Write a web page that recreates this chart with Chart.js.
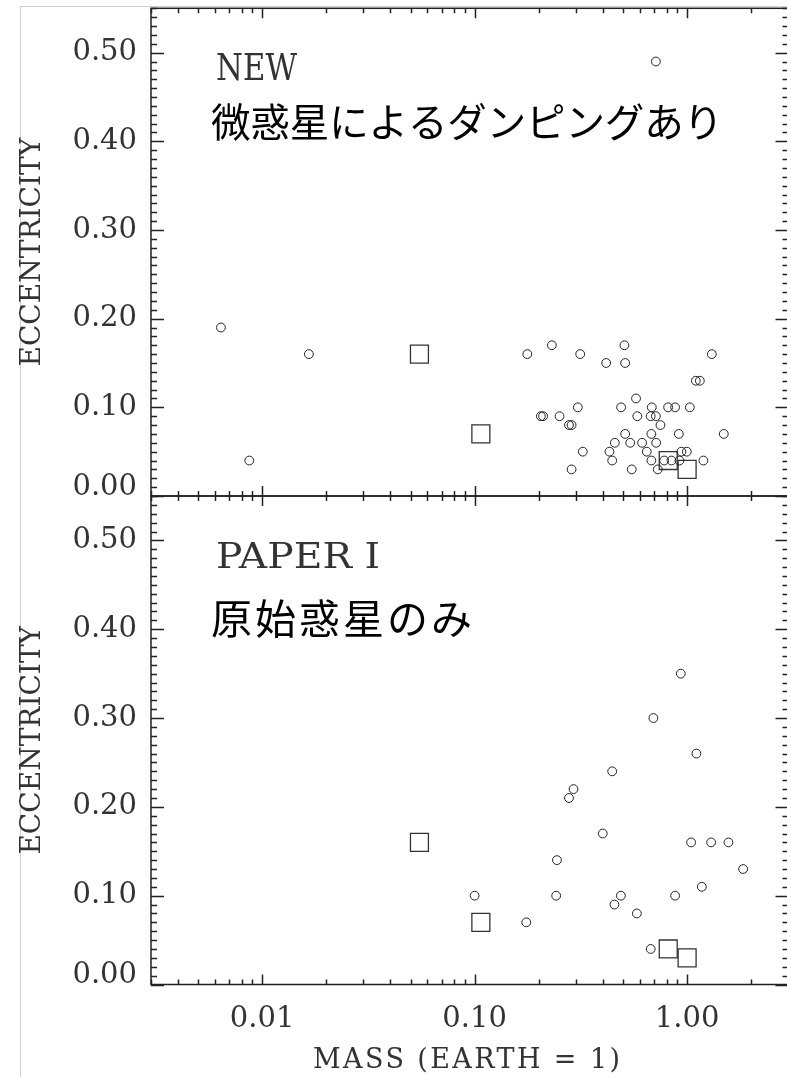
<!DOCTYPE html>
<html>
<head>
<meta charset="utf-8">
<script src="https://cdn.jsdelivr.net/npm/chart.js@4/dist/chart.umd.min.js"></script>
<style>
  html, body { margin: 0; padding: 0; background: #fff; overflow: hidden; width: 787px; height: 1077px; }
  #edge { position: absolute; left: 20px; top: 6px; width: 800px; height: 1100px;
          border-left: 1px solid #cfcfcf; border-top: 1px solid #cfcfcf; }
  canvas { position: absolute; left: 0; }
  #cTop { top: 0; }
  #cBot { top: 490px; }
</style>
</head>
<body>
<div id="edge"></div>
<canvas id="cTop" width="800" height="500"></canvas>
<canvas id="cBot" width="800" height="587"></canvas>
<script>
// Planet masses (Earth = 1) and eccentricities.
// Runs with planetesimal damping
const newMass = [0.0064, 0.0087, 0.0166, 0.177, 0.231, 0.314, 0.507, 0.416, 0.511, 1.307,
                 1.099, 1.148, 0.575, 0.306, 0.489, 0.682, 0.814, 0.878, 1.030, 0.205,
                 0.210, 0.251, 0.583, 0.674, 0.713, 0.278, 0.286, 0.749, 0.511, 0.679,
                 0.914, 1.488, 0.457, 0.540, 0.614, 0.715, 0.323, 0.431, 0.646, 0.940,
                 0.997, 0.444, 0.679, 0.780, 0.844, 0.920, 1.193, 0.286, 0.549, 0.728,
                 0.713];
const newEcc  = [0.19, 0.04, 0.16, 0.16, 0.17, 0.16, 0.17, 0.15, 0.15, 0.16,
                 0.13, 0.13, 0.11, 0.10, 0.10, 0.10, 0.10, 0.10, 0.10, 0.09,
                 0.09, 0.09, 0.09, 0.09, 0.09, 0.08, 0.08, 0.08, 0.07, 0.07,
                 0.07, 0.07, 0.06, 0.06, 0.06, 0.06, 0.05, 0.05, 0.05, 0.05,
                 0.05, 0.04, 0.04, 0.04, 0.04, 0.04, 0.04, 0.03, 0.03, 0.03,
                 0.49];
// Runs with protoplanets only (Paper I)
const paperMass = [0.934, 0.694, 1.106, 0.444, 0.292, 0.278, 0.401, 1.044, 1.297, 1.565,
                   1.835, 0.244, 0.100, 0.242, 0.488, 0.878, 1.173, 0.455, 0.580, 0.175,
                   0.674];
const paperEcc  = [0.35, 0.30, 0.26, 0.24, 0.22, 0.21, 0.17, 0.16, 0.16, 0.16,
                   0.13, 0.14, 0.10, 0.10, 0.10, 0.10, 0.11, 0.09, 0.08, 0.07,
                   0.04];
// Terrestrial planets of the Solar System (squares)
const planetMass = [0.055, 0.107, 0.815, 1.0];
const planetEcc  = [0.16, 0.07, 0.04, 0.03];

const xTickVals   = [0.01, 0.1, 1];
const xTickLabels = ['0.01', '0.10', '1.00'];
const yTickVals   = [0, 0.1, 0.2, 0.3, 0.4, 0.5];
const yTickLabels = ['0.00', '0.10', '0.20', '0.30', '0.40', '0.50'];

const SERIF = 'DejaVu Serif';
const INK = '#333';
const CANVAS_W = 800;

function toPoints(xs, ys) { return xs.map((v, i) => ({ x: v, y: ys[i] })); }

// Draw a text run stretched (or letter-spaced) to a given width, left-aligned on a baseline.
function drawText(ctx, t) {
  ctx.save();
  ctx.font = t.font;
  ctx.fillStyle = t.color;
  ctx.textBaseline = 'alphabetic';
  ctx.textAlign = 'left';
  const w = ctx.measureText(t.text).width;
  let x = t.center ? t.x - t.width / 2 : t.x;
  if (t.fit === 'spacing') {
    const n = [...t.text].length;
    ctx.letterSpacing = ((t.width - w) / (n - 1)) + 'px';
    ctx.fillText(t.text, x, t.y);
  } else {
    ctx.translate(x, t.y);
    ctx.scale(t.width / w, 1);
    ctx.fillText(t.text, 0, 0);
  }
  ctx.restore();
}

// Box frame with inward ticks on all four sides (log minor ticks on x, 0.01 steps on y)
function framePlugin(notes) {
  return {
    id: 'frameTicks',
    afterDraw(chart) {
      const { ctx, chartArea: a, scales: { x, y } } = chart;
      ctx.save();
      ctx.strokeStyle = '#222';
      ctx.lineWidth = 1.5;
      ctx.strokeRect(a.left, a.top, a.right - a.left, a.bottom - a.top);
      ctx.beginPath();
      for (let e = -3; e <= 0; e++) {
        for (let m = 1; m <= 9; m++) {
          const v = m * Math.pow(10, e);
          if (v < x.min * 0.9999 || v > x.max * 1.0001) continue;
          const px = Math.round(x.getPixelForValue(v)) + 0.5;
          const L = m === 1 ? 10 : 5;
          ctx.moveTo(px, a.bottom); ctx.lineTo(px, a.bottom - L);
          ctx.moveTo(px, a.top);    ctx.lineTo(px, a.top + L);
        }
      }
      for (let i = 0; i <= 55; i++) {
        const py = Math.round(y.getPixelForValue(i / 100)) + 0.5;
        const L = i % 10 === 0 ? 13 : 6;
        ctx.moveTo(a.left, py);  ctx.lineTo(a.left + L, py);
        ctx.moveTo(a.right, py); ctx.lineTo(a.right - L, py);
      }
      ctx.stroke();
      ctx.restore();
      notes.forEach(t => drawText(ctx, t));
    }
  };
}

function makeChart(canvas, bodies, isBottom, notes) {
  const padTop = isBottom ? 6 : 8.3;
  return new Chart(canvas, {
    type: 'scatter',
    data: {
      datasets: [
        {
          data: bodies,
          pointStyle: 'circle',
          pointRadius: 4.4,
          borderWidth: 1,
          borderColor: '#222',
          backgroundColor: 'rgba(0,0,0,0)'
        },
        {
          data: toPoints(planetMass, planetEcc),
          pointStyle: 'rect',
          pointRadius: 12.7,
          borderWidth: 1.3,
          borderColor: '#333',
          backgroundColor: 'rgba(0,0,0,0)'
        }
      ]
    },
    options: {
      responsive: false,
      animation: false,
      devicePixelRatio: 1,
      events: [],
      layout: {
        autoPadding: false,
        padding: { top: padTop, right: CANVAS_W - 788.5, bottom: isBottom ? 0 : 4, left: 0 }
      },
      plugins: { legend: { display: false }, tooltip: { enabled: false } },
      scales: {
        x: {
          type: 'logarithmic',
          min: 0.003,
          max: 3,
          display: isBottom,
          grid: { display: false, drawTicks: false },
          border: { display: false },
          afterBuildTicks: s => { s.ticks = xTickVals.map(v => ({ value: v })); },
          afterFit: s => {
            s.height = isBottom ? 92.5 : 0;
            s.paddingLeft = 0; s.paddingRight = 0;
          },
          ticks: {
            autoSkip: false,
            maxRotation: 0,
            padding: 18,
            color: INK,
            font: { family: SERIF, size: 29 },
            callback: (v, i) => xTickLabels[i]
          }
        },
        y: {
          min: 0,
          max: 0.55,
          grid: { display: false, drawTicks: false },
          border: { display: false },
          afterBuildTicks: s => { s.ticks = yTickVals.map(v => ({ value: v })); },
          afterFit: s => {
            s.width = 151;
            s.paddingTop = 0; s.paddingBottom = 0;
          },
          ticks: {
            padding: 14,
            color: INK,
            // the bottom label sits a little above its tick
            font: c => ({ family: SERIF, size: 29, lineHeight: (c.tick && c.tick.value === 0) ? 0.62 : 1.2 }),
            callback: (v, i) => (i === 0 ? [yTickLabels[i], ' '] : yTickLabels[i])
          },
          title: {
            display: true,
            text: 'ECCENTRICITY',
            color: INK,
            padding: { top: 16, bottom: 0 },
            font: { family: SERIF, size: 28 }
          }
        }
      }
    },
    plugins: [framePlugin(notes)]
  });
}

makeChart(document.getElementById('cTop'), toPoints(newMass, newEcc), false, [
  { text: 'NEW', x: 216, y: 80, font: '37px "DejaVu Serif"', color: INK, width: 81 },
  { text: '微惑星によるダンピングあり', x: 211, y: 137, font: '39.5px "Noto Sans CJK JP"', color: '#000', width: 512, fit: 'spacing' }
]);

makeChart(document.getElementById('cBot'), toPoints(paperMass, paperEcc), true, [
  { text: 'PAPER I', x: 216, y: 77.7, font: '36px "DejaVu Serif"', color: INK, width: 164 },
  { text: '原始惑星のみ', x: 211, y: 144, font: '41px "Noto Sans CJK JP"', color: '#000', width: 261, fit: 'spacing' },
  { text: 'MASS (EARTH = 1)', x: 466.5, y: 578, font: '27px "DejaVu Serif"', color: INK, width: 307, center: true, fit: 'spacing' }
]);
</script>
</body>
</html>
